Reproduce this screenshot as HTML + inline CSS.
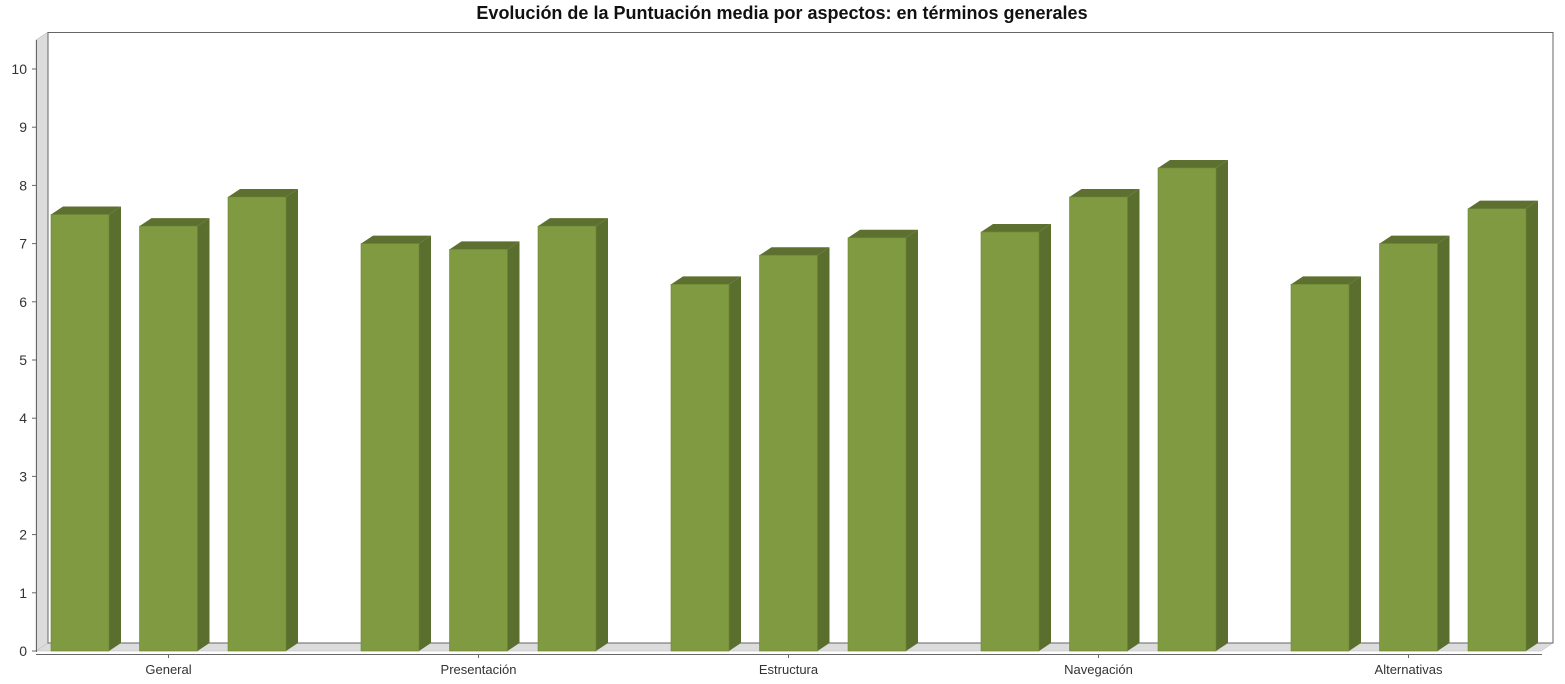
<!DOCTYPE html>
<html><head><meta charset="utf-8"><style>
body{margin:0;background:#fff;font-family:"Liberation Sans",sans-serif}
svg{display:block}
</style></head><body>
<svg id="c" width="1565" height="684">
<text x="782" y="19" text-anchor="middle" font-size="18" font-weight="bold" fill="#111">Evolución de la Puntuación media por aspectos: en términos generales</text>
<polygon points="36,40 48,32 48,643 36,651" fill="#dcdcdc" stroke="#aaa" stroke-width="0.5"/>
<polygon points="36,651 48,643 1553,643 1541,651" fill="#dcdcdc" stroke="#bbb" stroke-width="0.5"/>
<rect x="48" y="32.5" width="1505" height="610.5" fill="#fff" stroke="#666" stroke-width="1"/>
<line x1="36.5" y1="40" x2="36.5" y2="652" stroke="#666"/>
<line x1="36" y1="654.5" x2="1542" y2="654.5" stroke="#666"/>
<g id="g"></g>
</svg>
<script>
const categories=["General","Presentación","Estructura","Navegación","Alternativas"];
const series1=[7.5,7.0,6.3,7.2,6.3];
const series2=[7.3,6.9,6.8,7.8,7.0];
const series3=[7.8,7.3,7.1,8.3,7.6];
const yTicks=[0,1,2,3,4,5,6,7,8,9,10];
const NS="http://www.w3.org/2000/svg";
const g=document.getElementById('g');
function y(v){return 651-v*58.2;}
function xb(c,i){return 51+c*310+i*88.5;}
function mk(t,a){const e=document.createElementNS(NS,t);for(const k in a)e.setAttribute(k,a[k]);g.appendChild(e);return e;}
yTicks.forEach(v=>{
  const l=mk('line',{x1:32,x2:36,y1:y(v),y2:y(v),stroke:'#666'});
  
  
  const t=mk('text',{x:27,y:y(v)+5,'text-anchor':'end','font-size':14,fill:'#333'});
  t.textContent=v;
  
  
});
const all=[series1,series2,series3];
categories.forEach((c,ci)=>{
  const cx=xb(ci,1)+29;
  const tk=mk('line',{x1:cx,x2:cx,y1:654,y2:658,stroke:'#666'});
  
  
  const t=mk('text',{x:cx,y:674,'text-anchor':'middle','font-size':13,fill:'#333'});
  t.textContent=c;
  
  
  all.forEach((s,si)=>{
    const x=xb(ci,si),top=y(s[ci]),w=58,d=12,h=8;
    const side=mk('polygon',{points:`${x+w},${top} ${x+w+d},${top-h} ${x+w+d},${643} ${x+w},651`,fill:'#5a6e2e'});
    
    
    const tp=mk('polygon',{points:`${x},${top} ${x+d},${top-h} ${x+w+d},${top-h} ${x+w},${top}`,fill:'#5e7030'});
    
    
    const r=mk('rect',{x:x,y:top,width:w,height:651-top,fill:'#7f9a41',stroke:'#6d8636','stroke-width':0.6});
    
    
  });
});
</script>
</body></html>
